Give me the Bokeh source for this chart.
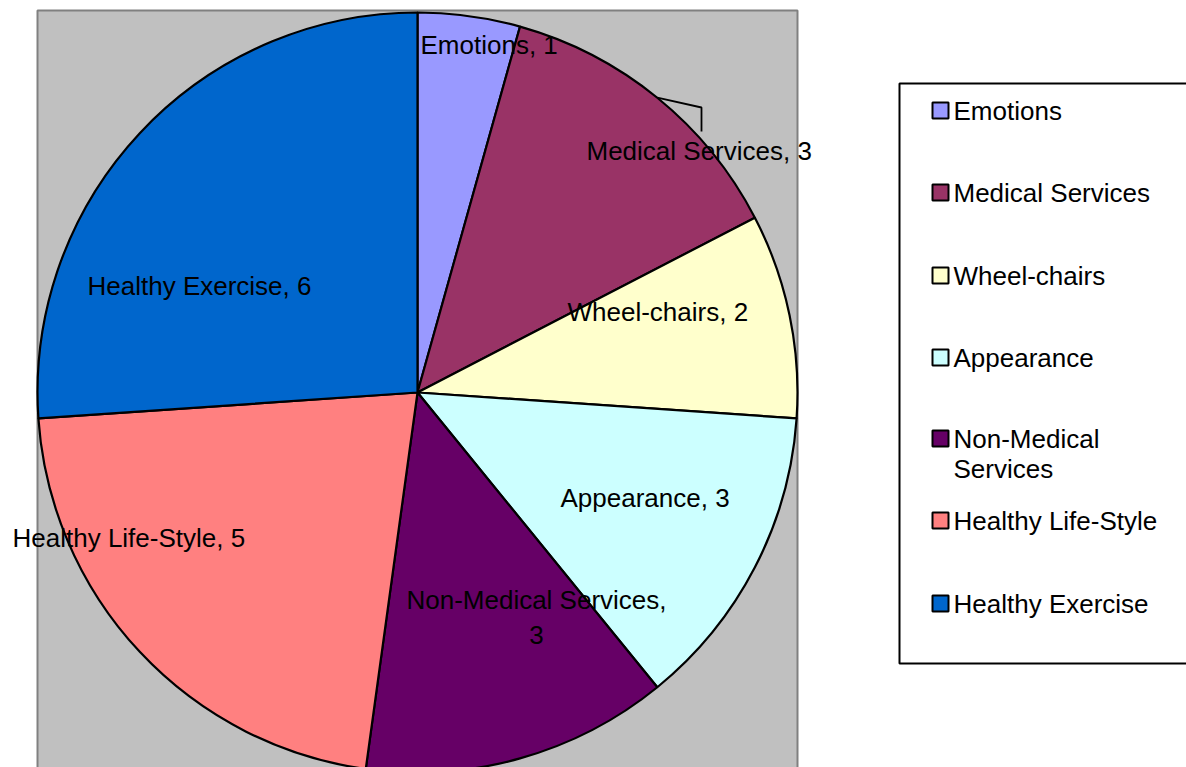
import math
from bokeh.plotting import figure
from bokeh.models import Range1d
from bokeh.core.properties import value
from bokeh.embed import file_html
from bokeh.resources import INLINE

# ---------------- data ----------------
categories = ["Emotions", "Medical Services", "Wheel-chairs", "Appearance",
              "Non-Medical Services", "Healthy Life-Style", "Healthy Exercise"]
counts = [1, 3, 2, 3, 3, 5, 6]
colors = ["#9999FF", "#993366", "#FFFFCC", "#CCFFFF", "#660066", "#FF8080", "#0066CC"]
legend_texts = ["Emotions", "Medical Services", "Wheel-chairs", "Appearance",
                "Non-Medical\nServices", "Healthy Life-Style", "Healthy Exercise"]

# ---------------- layout (screen pixels) ----------------
PAGE_H = 767
W, H = 1186, 767
FONT = "Liberation Sans"
FS = "26px"
TXT_SHIFT = -9

def Y(sy):
    return PAGE_H - sy

cx, cy, R = 417, Y(392), 380
# data-label anchors: (x, baseline y, align, wrap-before-value)
label_layout = [(420, 53, "left", False), (586, 159, "left", False),
                (567, 320, "left", False), (560, 506, "left", False),
                (536, 608, "center", True), (12, 546, "left", False),
                (87, 294, "left", False)]
LINE_STEP = 35
legend_square_y = [110, 192, 275, 357, 438, 520, 603]

p = figure(width=W, height=H, x_range=Range1d(0, W), y_range=Range1d(PAGE_H - H, PAGE_H),
           output_backend="svg", toolbar_location=None, min_border=0,
           x_axis_type=None, y_axis_type=None)
p.grid.visible = False
p.outline_line_color = None
p.background_fill_color = "white"
p.border_fill_color = "white"

# plot area (gray)
p.quad(left=[37], right=[797], top=[Y(10)], bottom=[Y(800)],
       fill_color="#C0C0C0", line_color="#808080", line_width=2)

# pie wedges, starting at 12 o'clock, clockwise
total = sum(counts)
starts, ends, mids = [], [], []
cum = 0
for v in counts:
    a0 = math.pi / 2 - 2 * math.pi * cum / total
    cum += v
    a1 = math.pi / 2 - 2 * math.pi * cum / total
    starts.append(a0)
    ends.append(a1)
    mids.append((a0 + a1) / 2)

p.wedge(x=cx, y=cy, radius=R, start_angle=starts, end_angle=ends, direction="clock",
        fill_color=colors, line_color="black", line_width=2.2)

# leader line for Medical Services label
mi = categories.index("Medical Services")
sx0 = cx + R * math.cos(mids[mi])
sy0 = cy + R * math.sin(mids[mi])
p.line(x=[sx0, 701, 701], y=[sy0, Y(107), Y(131)], line_color="black", line_width=1.8)

# data labels
for cat, v, (lx, ly, al, wrap) in zip(categories, counts, label_layout):
    txt = f"{cat},\n{v}" if wrap else f"{cat}, {v}"
    for i, line in enumerate(txt.split("\n")):
        p.text(x=[lx], y=[Y(ly + TXT_SHIFT + i * LINE_STEP)], text=[line], text_align=al,
               text_baseline="alphabetic", text_font=value(FONT), text_font_size=FS,
               text_color="black")

# legend box
p.quad(left=[899], right=[1300], top=[Y(83)], bottom=[Y(663)],
       fill_color="white", line_color="black", line_width=2)
p.rect(x=[940] * len(colors), y=[Y(v) for v in legend_square_y], width=16, height=16,
       fill_color=colors, line_color="black", line_width=2)
for txt, sy in zip(legend_texts, legend_square_y):
    for i, line in enumerate(txt.split("\n")):
        p.text(x=[953], y=[Y(sy + 9 + TXT_SHIFT + i * 30)], text=[line], text_align="left",
               text_baseline="alphabetic", text_font=value(FONT), text_font_size="26px",
               text_color="black")

open("out.html", "w").write(file_html(p, INLINE))
